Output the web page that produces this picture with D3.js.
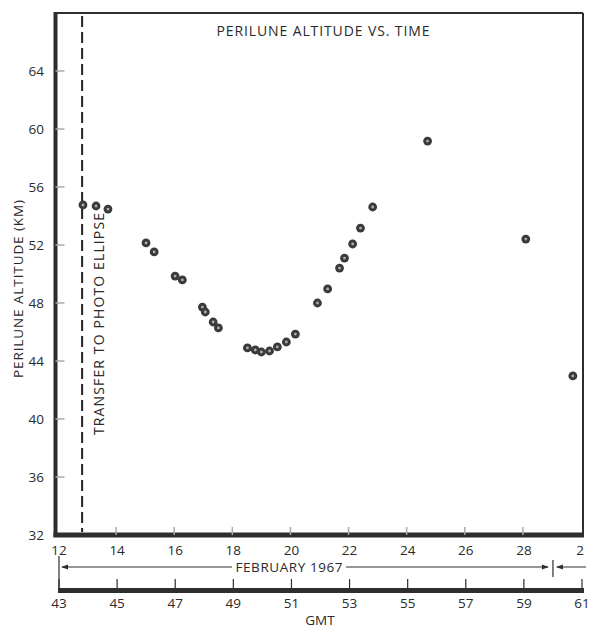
<!DOCTYPE html>
<html>
<head>
<meta charset="utf-8">
<script src="https://cdn.jsdelivr.net/npm/d3@7"></script>
<style>
  body { margin: 0; background: #fff; }
  text { font-family: 'Open Sans', sans-serif; fill: #2a2a2a; }
</style>
</head>
<body>
<svg id="chart" width="592" height="628"></svg>
<script>
// February 1967 day vs perilune altitude (km)
const days = [12.86, 13.31, 13.72, 15.03, 15.31, 16.03, 16.28, 16.97, 17.07, 17.34, 17.52,
  18.52, 18.79, 19.0, 19.28, 19.55, 19.86, 20.17, 20.93, 21.28, 21.69, 21.86, 22.14,
  22.41, 22.83, 24.72, 28.1, 29.72]
const altitudes = [54.76, 54.69, 54.48, 52.14, 51.52, 49.86, 49.59, 47.72, 47.38, 46.69, 46.28,
  44.9, 44.76, 44.62, 44.69, 44.97, 45.31, 45.86, 48.0, 48.97, 50.41, 51.1, 52.07,
  53.17, 54.62, 59.17, 52.41, 42.97]

const yTicks = [32, 36, 40, 44, 48, 52, 56, 60, 64]
const dateTicks = [12, 14, 16, 18, 20, 22, 24, 26, 28, 30]
const gmtTicks = [43, 45, 47, 49, 51, 53, 55, 57, 59, 61]
const transferDay = 12.83
const endOfFeb = 29

const svg = d3.select('#chart')

const x = d3.scaleLinear().domain([12, 30]).range([58, 581])
const gmt = d3.scaleLinear().domain([43, 61]).range([58, 581])
const y = d3.scaleLinear().domain([32, 68]).range([535, 13])

const ink = '#2e2e2e'
const numSize = '13.5px'

// frame
const fLeft = 55.5, fRight = 583, fTop = y(68), fBottom = y(32)
svg.append('line').attr('x1', fLeft).attr('x2', fRight).attr('y1', fTop).attr('y2', fTop)
  .attr('stroke', ink).attr('stroke-width', 2)
svg.append('line').attr('x1', fRight).attr('x2', fRight).attr('y1', fTop).attr('y2', fBottom)
  .attr('stroke', ink).attr('stroke-width', 2)
svg.append('line').attr('x1', fLeft).attr('x2', fLeft).attr('y1', fTop - 1).attr('y2', fBottom + 2)
  .attr('stroke', ink).attr('stroke-width', 4)
svg.append('line').attr('x1', fLeft - 2).attr('x2', fRight + 1).attr('y1', fBottom).attr('y2', fBottom)
  .attr('stroke', ink).attr('stroke-width', 5)

// inner ticks
svg.selectAll('line.ytick')
  .data(yTicks.slice(1))
  .join('line')
  .attr('class', 'ytick')
  .attr('x1', fLeft).attr('x2', fLeft + 9)
  .attr('y1', (d) => y(d)).attr('y2', (d) => y(d))
  .attr('stroke', '#aaa').attr('stroke-width', 1.5)

svg.selectAll('line.xtick')
  .data(dateTicks.slice(1, -1))
  .join('line')
  .attr('class', 'xtick')
  .attr('x1', (d) => x(d)).attr('x2', (d) => x(d))
  .attr('y1', fBottom).attr('y2', fBottom - 8)
  .attr('stroke', '#aaa').attr('stroke-width', 1.5)

// y labels
svg.selectAll('text.ylab')
  .data(yTicks)
  .join('text')
  .attr('class', 'ylab')
  .attr('x', 44)
  .attr('y', (d) => y(d) + 5)
  .attr('text-anchor', 'end')
  .style('font-size', numSize)
  .text((d) => d)

svg.append('text')
  .attr('transform', `translate(23,${289}) rotate(-90)`)
  .attr('text-anchor', 'middle')
  .attr('textLength', 178)
  .style('font-size', '13.5px')
  .text('PERILUNE ALTITUDE (KM)')

// title
svg.append('text')
  .attr('x', 323).attr('y', 36)
  .attr('text-anchor', 'middle')
  .attr('textLength', 213)
  .style('font-size', '14px')
  .text('PERILUNE ALTITUDE VS. TIME')

// transfer line
svg.append('line')
  .attr('x1', x(transferDay)).attr('x2', x(transferDay))
  .attr('y1', fTop + 3).attr('y2', fBottom - 3)
  .attr('stroke', '#222').attr('stroke-width', 2)
  .attr('stroke-dasharray', '11,5')

svg.append('text')
  .attr('transform', `translate(${x(transferDay) + 22},${324}) rotate(-90)`)
  .attr('text-anchor', 'middle')
  .attr('textLength', 222)
  .style('font-size', '14px')
  .text('TRANSFER TO PHOTO ELLIPSE')

// points
const pts = svg.append('g')
  .selectAll('g')
  .data(days.map((d, i) => ({ day: d, alt: altitudes[i] })))
  .join('g')
  .attr('transform', (d) => `translate(${x(d.day)},${y(d.alt)})`)
pts.append('circle').attr('r', 4.4).attr('fill', '#3a3a3a')
pts.append('circle').attr('r', 1.4).attr('fill', '#b0b0b0')

// date labels
svg.selectAll('text.dlab')
  .data(dateTicks)
  .join('text')
  .attr('class', 'dlab')
  .attr('x', (d) => x(d) + (d === 30 ? -1 : 1))
  .attr('y', 555)
  .attr('text-anchor', 'middle')
  .style('font-size', numSize)
  .text((d) => (d === 30 ? '2' : d))

// February span
const arrowY = 567
svg.append('line').attr('x1', x(12) + 1).attr('x2', x(12) + 1).attr('y1', 556).attr('y2', 589)
  .attr('stroke', ink).attr('stroke-width', 1.2)
svg.append('line').attr('x1', x(12) + 4).attr('x2', 232).attr('y1', arrowY).attr('y2', arrowY)
  .attr('stroke', ink).attr('stroke-width', 1)
svg.append('path').attr('d', `M${x(12) + 3},${arrowY} l7,-2.5 l0,5 z`).attr('fill', ink)
svg.append('text')
  .attr('x', 289).attr('y', arrowY + 5)
  .attr('text-anchor', 'middle')
  .attr('textLength', 107)
  .style('font-size', '13.5px')
  .text('FEBRUARY 1967')
svg.append('line').attr('x1', 346).attr('x2', x(endOfFeb) - 4).attr('y1', arrowY).attr('y2', arrowY)
  .attr('stroke', ink).attr('stroke-width', 1)
svg.append('path').attr('d', `M${x(endOfFeb) - 3},${arrowY} l-7,-2.5 l0,5 z`).attr('fill', ink)
svg.append('line').attr('x1', x(endOfFeb) + 1).attr('x2', x(endOfFeb) + 1).attr('y1', 560).attr('y2', 577)
  .attr('stroke', ink).attr('stroke-width', 1.2)
svg.append('line').attr('x1', x(endOfFeb) + 5).attr('x2', 586).attr('y1', arrowY).attr('y2', arrowY)
  .attr('stroke', ink).attr('stroke-width', 1)
svg.append('path').attr('d', `M${x(endOfFeb) + 4},${arrowY} l7,-2.5 l0,5 z`).attr('fill', ink)

// GMT bar
svg.append('rect')
  .attr('x', gmt(43)).attr('y', 588)
  .attr('width', gmt(61) - gmt(43) + 3).attr('height', 5)
  .attr('fill', ink)
svg.selectAll('line.gtick')
  .data(gmtTicks)
  .join('line')
  .attr('class', 'gtick')
  .attr('x1', (d) => gmt(d) + 1).attr('x2', (d) => gmt(d) + 1)
  .attr('y1', 579).attr('y2', 588)
  .attr('stroke', ink).attr('stroke-width', 1.2)
svg.selectAll('text.glab')
  .data(gmtTicks)
  .join('text')
  .attr('class', 'glab')
  .attr('x', (d) => gmt(d) + 1)
  .attr('y', 608)
  .attr('text-anchor', 'middle')
  .style('font-size', numSize)
  .text((d) => d)
svg.append('text')
  .attr('x', 320).attr('y', 625)
  .attr('text-anchor', 'middle')
  .style('font-size', '13.5px')
  .text('GMT')
</script>
</body>
</html>
